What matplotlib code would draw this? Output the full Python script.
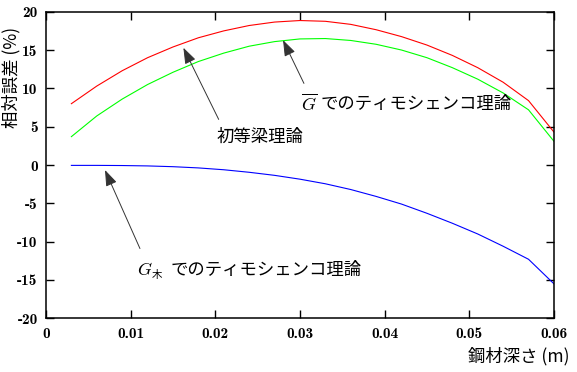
import matplotlib
matplotlib.use('Agg')
import matplotlib.pyplot as plt

plt.rcParams['mathtext.fontset'] = 'cm'
plt.rcParams['axes.unicode_minus'] = False

# steel depth (m) and relative error (%)
depth = [0.003, 0.006, 0.009, 0.012, 0.015, 0.018, 0.021, 0.024, 0.027, 0.030,
         0.033, 0.036, 0.039, 0.042, 0.045, 0.048, 0.051, 0.054, 0.057, 0.060]
err_beam = [8.0, 10.3, 12.3, 14.0, 15.4, 16.6, 17.5, 18.2, 18.65, 18.85,
            18.75, 18.35, 17.65, 16.75, 15.65, 14.3, 12.7, 10.8, 8.4, 4.3]
err_gbar = [3.7, 6.4, 8.6, 10.5, 12.1, 13.5, 14.6, 15.5, 16.1, 16.45,
            16.5, 16.25, 15.75, 15.0, 14.0, 12.7, 11.2, 9.4, 7.2, 3.1]
err_gwood = [-0.05, -0.05, -0.07, -0.12, -0.22, -0.38, -0.62, -0.95, -1.35, -1.85,
             -2.45, -3.2, -4.1, -5.1, -6.3, -7.6, -9.0, -10.6, -12.3, -15.5]

x_ticks = [0, 0.01, 0.02, 0.03, 0.04, 0.05, 0.06]
x_labels = ['0', '0.01', '0.02', '0.03', '0.04', '0.05', '0.06']
y_ticks = [-20, -15, -10, -5, 0, 5, 10, 15, 20]
y_labels = ['-20', '-15', '-10', '-5', '0', '5', '10', '15', '20']

jp = ['Noto Sans CJK JP', 'DejaVu Sans']
num_font = 'cmb10'

fig = plt.figure(figsize=(5.77, 3.72), dpi=100)
ax = fig.add_axes([0.0797, 0.1444, 0.8803, 0.8241])

ax.plot(depth, err_beam, color='#ff0000', lw=0.8)
ax.plot(depth, err_gbar, color='#00ff00', lw=0.8)
ax.plot(depth, err_gwood, color='#0000ff', lw=0.8)

ax.set_xlim(0, 0.06)
ax.set_ylim(-20, 20)
ax.set_xticks(x_ticks)
ax.set_xticklabels(x_labels, fontfamily=num_font, fontsize=11)
ax.set_yticks(y_ticks)
ax.set_yticklabels(y_labels, fontfamily=num_font, fontsize=11)
ax.tick_params(direction='in', length=6, width=1, top=True, right=True, pad=6)
for s in ax.spines.values():
    s.set_linewidth(1.1)

arrow = dict(arrowstyle='-|>,head_length=0.7,head_width=0.25', color='#333333',
             lw=0.7, mutation_scale=14, shrinkA=0, shrinkB=0)

# 初等梁理論
ax.annotate('', xy=(0.01623, 15.3), xytext=(0.0204, 5.95), arrowprops=arrow)
ax.text(0.0202, 3.7, '初等梁理論', family=jp, fontsize=12.5, ha='left', va='center')

# G-bar
ax.annotate('', xy=(0.0280, 16.3), xytext=(0.03047, 10.65), arrowprops=arrow)
ax.text(0.0301, 8.0, r'$\overline{G}$', fontsize=13, ha='left', va='center')
ax.annotate('でのティモシェンコ理論', xy=(0.0301, 8.0), xytext=(14, 0),
            textcoords='offset points', family=jp, fontsize=12.5, ha='left', va='center')

# G wood
ax.annotate('', xy=(0.00697, -0.65), xytext=(0.0111, -10.9), arrowprops=arrow)
ax.text(0.0108, -13.7, r'$G$', fontsize=13, ha='left', va='center')
ax.annotate('木', xy=(0.0108, -13.7), xytext=(10.5, -3.5),
            textcoords='offset points', family=jp, fontsize=7.5, ha='left', va='center')
ax.annotate('でのティモシェンコ理論', xy=(0.0108, -13.7), xytext=(24, 0),
            textcoords='offset points', family=jp, fontsize=12.5, ha='left', va='center')

fig.text(11 / 577, 1 - 77 / 372, '相対誤差 (%)', family=jp, fontsize=12.5,
         rotation=90, ha='center', va='center')
fig.text(570 / 577, 1 - 356 / 372, '鋼材深さ (m)', family=jp, fontsize=12.5,
         ha='right', va='center')

fig.savefig('out.png', dpi=100)
